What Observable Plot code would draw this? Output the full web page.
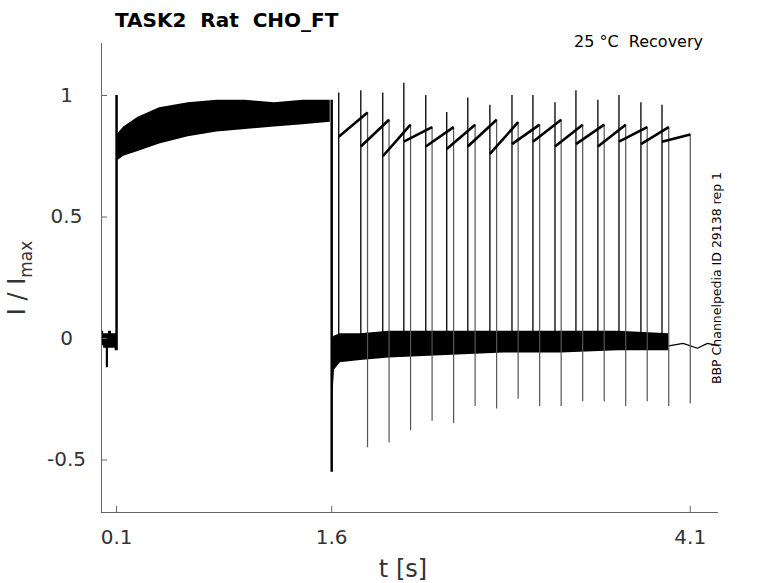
<!DOCTYPE html>
<html><head><meta charset="utf-8">
<script src="https://cdn.jsdelivr.net/npm/d3@7"></script>
<script src="https://cdn.jsdelivr.net/npm/@observablehq/plot@0.6"></script>
<style>body{margin:0;background:#fff;font-family:"DejaVu Sans",sans-serif}</style>
</head><body><div id="chart"></div>
<script>
const xTicks = [0.1, 1.6, 4.1];
const yTicks = [-0.5, 0, 0.5, 1];
const yTickLabels = ["-0.5", "0", "0.5", "1"];
// pre-pulse baseline
const preT = [0, 0.02, 0.037, 0.05, 0.08, 0.1];
const preLo = [-0.03, -0.04, -0.12, -0.04, -0.04, -0.05];
const preHi = [0.03, 0.02, 0.02, 0.03, 0.02, 0.02];
// conditioning pulse envelope (all sweeps)
const condT = [0.105, 0.15, 0.25, 0.4, 0.6, 0.8, 1.0, 1.2, 1.4, 1.59];
const condLo = [0.73, 0.75, 0.77, 0.80, 0.83, 0.85, 0.86, 0.87, 0.88, 0.89];
const condHi = [0.84, 0.87, 0.91, 0.95, 0.97, 0.98, 0.98, 0.97, 0.98, 0.98];
// post-pulse baseline envelope
const postT = [1.6, 1.62, 1.66, 1.8, 2.0, 2.4, 2.8, 3.2, 3.6, 3.95];
const postLo = [-0.3, -0.13, -0.10, -0.09, -0.08, -0.07, -0.06, -0.06, -0.05, -0.05];
const postHi = [0.0, 0.01, 0.02, 0.02, 0.03, 0.03, 0.03, 0.03, 0.03, 0.02];
const tailT = [3.95, 4.05, 4.15, 4.22, 4.3];
const tailV = [-0.03, -0.02, -0.04, -0.02, -0.03];
// test pulses
const pStart = [1.649,1.803,1.956,2.103,2.256,2.402,2.549,2.703,2.857,3.003,3.157,3.303,3.456,3.603,3.756,3.903];
const pEnd = [1.85,2.0,2.15,2.3,2.45,2.6,2.75,2.9,3.05,3.2,3.35,3.5,3.65,3.8,3.95,4.1];
const pPeak = [1.01,1.02,1.01,1.05,1.0,0.93,0.99,0.96,1.0,1.0,0.97,1.02,0.98,1.0,0.97,0.96];
const pOn = [0.83,0.79,0.75,0.81,0.79,0.78,0.79,0.76,0.80,0.81,0.79,0.80,0.79,0.81,0.80,0.81];
const pOff = [0.93,0.90,0.88,0.87,0.87,0.88,0.90,0.89,0.88,0.90,0.88,0.88,0.88,0.87,0.87,0.84];
const pNeg = [-0.45,-0.43,-0.38,-0.34,-0.35,-0.28,-0.29,-0.25,-0.28,-0.28,-0.26,-0.26,-0.28,-0.26,-0.28,-0.27];

const xDom = [-0.005, 4.297], yDom = [-0.716, 1.214];
const band = (T, L, H) => T.map((t, i) => ({t, lo: L[i], hi: H[i]}));
const pulses = pStart.map((s, i) => ({s, e: pEnd[i], peak: pPeak[i], on: pOn[i], off: pOff[i], neg: pNeg[i]}));
const tail = tailT.map((t, i) => ({t, v: tailV[i]}));

const plot = Plot.plot({
  width: 778, height: 583,
  marginLeft: 101, marginRight: 60, marginTop: 43, marginBottom: 71,
  x: {domain: xDom, axis: null}, y: {domain: yDom, axis: null},
  style: {fontFamily: "DejaVu Sans", background: "#fff", overflow: "visible"},
  marks: [
    Plot.areaY(band(preT, preLo, preHi), {x: "t", y1: "lo", y2: "hi", fill: "#000", curve: "step"}),
    Plot.areaY(band(condT, condLo, condHi), {x: "t", y1: "lo", y2: "hi", fill: "#000"}),
    Plot.areaY(band(postT, postLo, postHi), {x: "t", y1: "lo", y2: "hi", fill: "#000"}),
    Plot.line(tail, {x: "t", y: "v", stroke: "#000", strokeWidth: 1.2}),
    Plot.ruleX([0.1], {y1: -0.05, y2: 1.0, stroke: "#000", strokeWidth: 2.5}),
    Plot.ruleX([1.6], {y1: -0.55, y2: 0.98, stroke: "#000", strokeWidth: 2.5}),
    Plot.ruleX(pulses, {x: "e", y1: "neg", y2: "off", stroke: "#555", strokeWidth: 1.2}),
    Plot.ruleX(pulses, {x: "s", y1: -0.04, y2: "peak", stroke: "#000", strokeWidth: 1.3}),
    Plot.link(pulses, {x1: "s", y1: "on", x2: "e", y2: "off", stroke: "#000", strokeWidth: 2.6}),
    Plot.ruleX([xDom[0]], {y1: yDom[0], y2: yDom[1], stroke: "#666"}),
    Plot.ruleY([yDom[0]], {x1: xDom[0], x2: xDom[1], stroke: "#666"}),
    Plot.ruleX(xTicks, {y1: yDom[0], y2: yDom[0] + 0.025, stroke: "#666"}),
    Plot.ruleY(yTicks, {x1: xDom[0], x2: xDom[0] + 0.042, stroke: "#666"}),
    Plot.text(yTicks, {x: xDom[0], y: d => d, text: (d, i) => yTickLabels[i], dx: -35, textAnchor: "middle", fontSize: 20, fill: "#333"}),
    Plot.text(xTicks, {x: d => d, y: yDom[0], text: d => String(d), dy: 25, fontSize: 20, fill: "#333"})
  ]
});
document.getElementById("chart").appendChild(plot);
const svg = d3.select(plot);
const g = svg.append("g").attr("text-anchor", "start");
g.append("text").attr("transform", "translate(115,27)").attr("font-size", 20).attr("font-weight", "bold")
  .attr("fill", "#000").style("white-space", "pre").text("TASK2  Rat  CHO_FT");
g.append("text").attr("transform", "translate(703,47)").attr("font-size", 16).attr("text-anchor", "end")
  .attr("fill", "#000").style("white-space", "pre").text("25 °C  Recovery");
g.append("text").attr("transform", "translate(721,278) rotate(-90)").attr("font-size", 12.5)
  .attr("text-anchor", "middle").attr("fill", "#000").text("BBP Channelpedia ID 29138 rep 1");
const yl = g.append("text").attr("transform", "translate(25,278) rotate(-90)").attr("font-size", 24)
  .attr("text-anchor", "middle").attr("fill", "#333");
yl.append("tspan").text("I / I");
yl.append("tspan").attr("font-size", 17).attr("dy", 7).text("max");
g.append("text").attr("transform", "translate(403,577)").attr("font-size", 24).attr("text-anchor", "middle")
  .attr("fill", "#333").text("t [s]");
</script></body></html>
